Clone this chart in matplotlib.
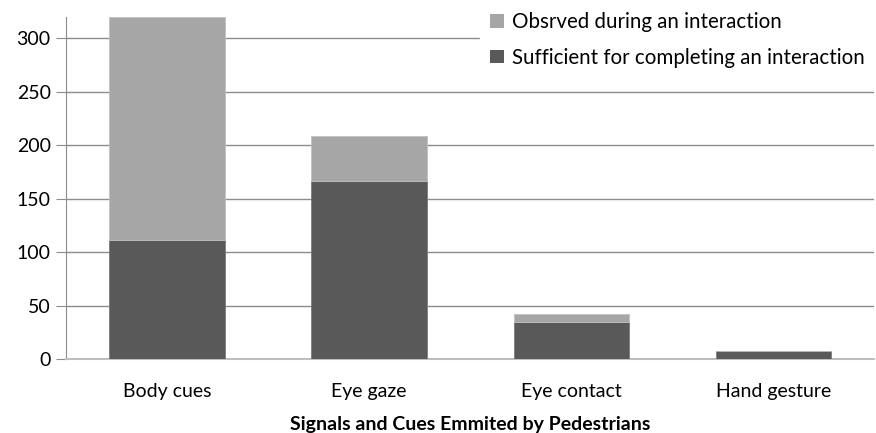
import numpy as np
import matplotlib.pyplot as plt
from matplotlib.patches import Patch

categories = ["Body cues", "Eye gaze", "Eye contact", "Hand gesture"]
sufficient = [111, 167, 35, 7]
observed_total = [320, 209, 42, 7]

light = "#A6A6A6"
dark = "#595959"
grid_col = "#8C8C8C"

plt.rcParams['font.family'] = ['Lato', 'DejaVu Sans']

fig = plt.figure(figsize=(8.76, 4.33), dpi=100)
ax = fig.add_axes([0.0753, 0.171, 0.9227, 0.7897])

x = np.arange(len(categories))
extra = [t - s for t, s in zip(observed_total, sufficient)]

# stacked bars
ax.bar(x, sufficient, width=0.57, color=dark, edgecolor="#7a7a7a", linewidth=0.6, zorder=3)
ax.bar(x, extra, bottom=sufficient, width=0.57, color=light, edgecolor="#c0c0c0",
       linewidth=0.6, zorder=3)

ax.set_xlim(-0.5, len(categories) - 0.5)
ax.set_ylim(0, 320)
ax.set_yticks(range(0, 301, 50))
ax.set_xticks(x)
ax.set_xticklabels(categories, fontsize=14)
ax.tick_params(axis='y', labelsize=14, length=7, color=grid_col, pad=4)
ax.tick_params(axis='x', length=0, pad=17)

ax.yaxis.grid(True, color=grid_col, linewidth=1)
ax.set_axisbelow(True)

for side in ("top", "right"):
    ax.spines[side].set_visible(False)
ax.spines["left"].set_color(grid_col)
ax.spines["bottom"].set_color("#BFBFBF")
ax.spines["bottom"].set_linewidth(1.5)

ax.set_xlabel("Signals and Cues Emmited by Pedestrians", fontsize=14,
              fontweight="bold", labelpad=12)

# legend with a white box that hides the top grid line
handles = [Patch(facecolor=light, edgecolor="none"),
           Patch(facecolor=dark, edgecolor="none")]
leg = fig.legend(handles, ["Obsrved during an interaction",
                           "Sufficient for completing an interaction"],
                 loc="upper left", bbox_to_anchor=(0.548, 0.995), frameon=True,
                 fontsize=14.8, handlelength=0.65, handleheight=0.65,
                 handletextpad=0.4, labelspacing=0.75, borderpad=0.5,
                 borderaxespad=0)
leg.get_frame().set_facecolor("white")
leg.get_frame().set_edgecolor("white")
leg.get_frame().set_alpha(1)
leg.get_frame().set_boxstyle("square", pad=0)

fig.savefig("out.png", dpi=100)
